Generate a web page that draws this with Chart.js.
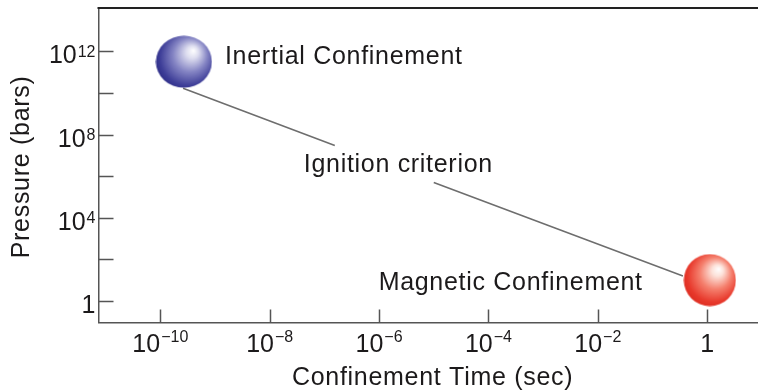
<!DOCTYPE html>
<html>
<head>
<meta charset="utf-8">
<script src="https://cdn.jsdelivr.net/npm/chart.js@4.4.1/dist/chart.umd.min.js"></script>
<style>
  html, body { margin: 0; padding: 0; background: #fff; }
</style>
</head>
<body>
<canvas id="myChart" width="758" height="391"></canvas>
<script>
// axis ticks (values + label parts: base, exponent)
const xTicks = [1e-10, 1e-8, 1e-6, 1e-4, 1e-2, 1];
const xTickLabels = [['10', '\u221210'], ['10', '\u22128'], ['10', '\u22126'], ['10', '\u22124'], ['10', '\u22122'], ['1', '']];
const yTicks = [1, 1e4, 1e8, 1e12];
const yTickLabels = [['1', ''], ['10', '4'], ['10', '8'], ['10', '12']];
const yMinorTicks = [1e2, 1e6, 1e10];

// the two confinement regimes
const regimes = ['Inertial Confinement', 'Magnetic Confinement'];
const regimeTime = [2.7e-10, 1.12];
const regimePressure = [3.2e11, 10];

// ignition criterion line (broken where its label sits)
const lineLabel = 'Ignition criterion';
const ignitionTime = [2.6e-10, 1.55e-7, 1e-6, 1.0e-5, 0.36];
const ignitionPressure = [1.7e10, 3.0e7, null, 5.0e5, 15.5];

const FONT = '"Liberation Sans", Arial, Helvetica, sans-serif';
const INK = '#1c1a1b';
const SPACING = 0.7;

function sphere(w, h, stops) {
    const c = document.createElement('canvas');
    c.width = w;
    c.height = h;
    const g = c.getContext('2d');
    const grad = g.createRadialGradient(w * 0.67, h * 0.29, 0, w * 0.55, h * 0.45, w * 0.6);
    stops.forEach(s => grad.addColorStop(s[0], s[1]));
    g.fillStyle = grad;
    g.beginPath();
    g.ellipse(w / 2, h / 2, w / 2 - 0.5, h / 2 - 0.5, 0, 0, Math.PI * 2);
    g.fill();
    return c;
}

const blueBall = sphere(57, 53, [[0, '#ffffff'], [0.18, '#dedef0'], [0.5, '#8585c4'], [0.82, '#3e3e98'], [1, '#282882']]);
const redBall = sphere(53, 53, [[0, '#ffffff'], [0.18, '#fde2da'], [0.5, '#f5806e'], [0.82, '#e8392c'], [1, '#da2a1e']]);

function drawPower(ctx, base, exp, x, baseY, supY, align) {
    ctx.font = '25px ' + FONT;
    const wb = ctx.measureText(base).width;
    ctx.font = '16px ' + FONT;
    const we = exp ? ctx.measureText(exp).width + 1 : 0;
    const left = align === 'right' ? x - wb - we : x - (wb + we) / 2;
    ctx.textAlign = 'left';
    ctx.textBaseline = 'alphabetic';
    ctx.font = '25px ' + FONT;
    ctx.fillText(base, left, baseY);
    if (exp) {
        ctx.font = '16px ' + FONT;
        ctx.fillText(exp, left + wb + 1, supY);
    }
}

function spacedText(ctx, text, x, y, align) {
    ctx.font = '25px ' + FONT;
    ctx.letterSpacing = SPACING + 'px';
    const w = ctx.measureText(text).width - SPACING;
    let left = x;
    if (align === 'right') left = x - w;
    if (align === 'center') left = x - w / 2;
    ctx.textAlign = 'left';
    ctx.textBaseline = 'alphabetic';
    ctx.fillText(text, left, y);
    ctx.letterSpacing = '0px';
}

const figurePlugin = {
    id: 'figureText',
    beforeDatasetsDraw(chart) {
        const { ctx, chartArea: a, scales: { x, y } } = chart;
        ctx.save();
        ctx.strokeStyle = '#222';
        ctx.lineWidth = 2;
        ctx.beginPath();
        ctx.moveTo(a.left - 1, a.top);
        ctx.lineTo(a.right, a.top);
        ctx.stroke();

        ctx.strokeStyle = '#555';
        ctx.lineWidth = 1.5;
        ctx.beginPath();
        xTicks.forEach(v => {
            const px = Math.round(x.getPixelForValue(v)) + 0.5;
            ctx.moveTo(px, a.bottom);
            ctx.lineTo(px, a.bottom - 13);
        });
        yTicks.concat(yMinorTicks).forEach(v => {
            const py = Math.round(y.getPixelForValue(v)) + 0.5;
            ctx.moveTo(a.left, py);
            ctx.lineTo(a.left + 15, py);
        });
        ctx.stroke();
        ctx.restore();
    },
    afterDraw(chart) {
        const { ctx, chartArea: a, scales: { x, y } } = chart;
        ctx.save();
        ctx.fillStyle = INK;

        xTicks.forEach((v, i) => {
            const px = x.getPixelForValue(v);
            drawPower(ctx, xTickLabels[i][0], xTickLabels[i][1], px, a.bottom + 29.2, a.bottom + 19.2, 'center');
        });
        yTicks.forEach((v, i) => {
            const py = y.getPixelForValue(v);
            drawPower(ctx, yTickLabels[i][0], yTickLabels[i][1], a.left - 3, py + 12, py + 5.5, 'right');
        });

        // axis titles
        spacedText(ctx, 'Confinement Time (sec)', (a.left + a.right) / 2 + 4, 385, 'center');
        ctx.save();
        ctx.translate(28.5, (a.top + a.bottom) / 2 + 2);
        ctx.rotate(-Math.PI / 2);
        spacedText(ctx, 'Pressure (bars)', 0, 0, 'center');
        ctx.restore();

        // regime labels next to the spheres
        const b = chart.getDatasetMeta(0).data;
        spacedText(ctx, regimes[0], b[0].x + 41, b[0].y + 2.3, 'left');
        spacedText(ctx, regimes[1], b[1].x - 67.8, b[1].y + 10.3, 'right');

        // ignition label in the gap of the line
        const l = chart.getDatasetMeta(1).data;
        const gx = (l[1].x + l[3].x) / 2;
        const gy = (l[1].y + l[3].y) / 2;
        spacedText(ctx, lineLabel, gx - 80.5, gy + 8, 'left');
        ctx.restore();
    }
};

new Chart(document.querySelector('#myChart'), {
    type: 'scatter',
    data: {
        datasets: [
            {
                label: 'Regimes',
                data: regimeTime.map((t, i) => ({ x: t, y: regimePressure[i] })),
                pointStyle: [blueBall, redBall],
                pointRadius: 27,
                pointHoverRadius: 27,
                clip: false
            },
            {
                label: lineLabel,
                data: ignitionTime.map((t, i) => ({ x: t, y: ignitionPressure[i] })),
                showLine: true,
                spanGaps: false,
                borderColor: '#6e6e6e',
                borderWidth: 1.6,
                pointRadius: 0,
                pointHoverRadius: 0
            }
        ]
    },
    options: {
        responsive: false,
        animation: false,
        events: [],
        layout: { autoPadding: false, padding: { top: 8, right: 0, left: 0, bottom: 0 } },
        plugins: { legend: { display: false }, tooltip: { enabled: false } },
        scales: {
            x: {
                type: 'logarithmic',
                min: 7.4e-12,
                max: 8.5,
                grid: { display: false },
                border: { display: true, color: '#555', width: 1.5 },
                ticks: { display: false },
                afterFit: s => { s.height = 68.5; }
            },
            y: {
                type: 'logarithmic',
                min: 0.091,
                max: 1.23e14,
                grid: { display: false },
                border: { display: true, color: '#555', width: 1.5 },
                ticks: { display: false },
                afterFit: s => { s.width = 98.5; }
            }
        }
    },
    plugins: [figurePlugin]
});
</script>
</body>
</html>
